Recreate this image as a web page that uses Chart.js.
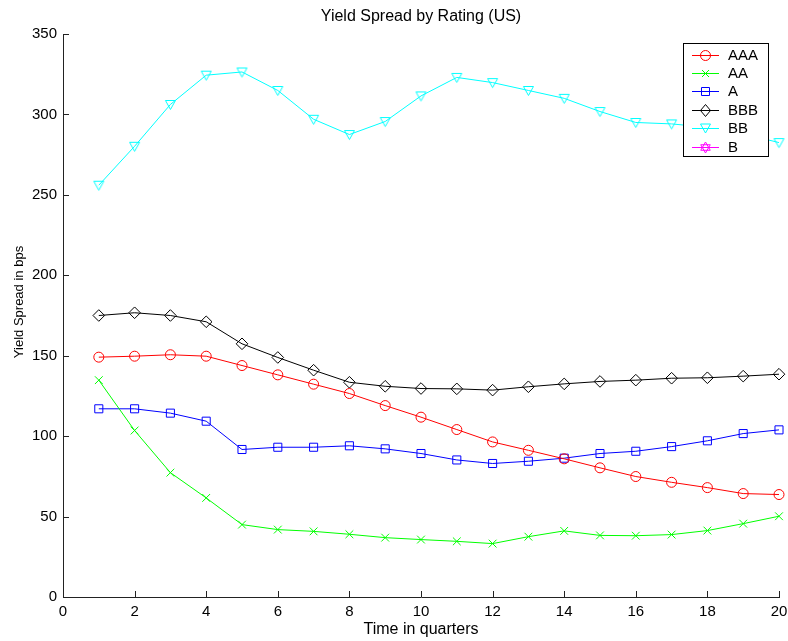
<!DOCTYPE html>
<html>
<head>
<meta charset="utf-8">
<title>Yield Spread by Rating (US)</title>
<script src="https://cdn.jsdelivr.net/npm/chart.js@4.4.1/dist/chart.umd.min.js"></script>
<style>
  html, body { margin: 0; padding: 0; background: #fff; }
  #wrap { width: 788px; height: 641px; }
</style>
</head>
<body>
<div id="wrap"><canvas id="spreadChart" width="788" height="641"></canvas></div>
<script>
// Quarters on the x axis
const quarters = [1, 2, 3, 4, 5, 6, 7, 8, 9, 10, 11, 12, 13, 14, 15, 16, 17, 18, 19, 20];

// Spreads (bps) per rating class
const aaaSpread = [149.1, 149.7, 150.6, 149.7, 143.9, 138.1, 132.3, 126.5, 119.0, 111.8, 104.1, 96.4, 91.2, 85.9, 80.3, 74.9, 71.3, 68.0, 64.3, 63.7];
const aaSpread  = [134.8, 103.5, 77.3, 61.6, 45.0, 41.9, 40.8, 39.0, 36.9, 35.7, 34.6, 33.2, 37.5, 41.1, 38.3, 38.1, 38.8, 41.3, 45.6, 50.2];
const aSpread   = [117.0, 117.0, 114.3, 109.3, 91.7, 93.1, 93.1, 94.0, 92.1, 89.2, 85.2, 83.0, 84.4, 86.3, 89.2, 90.6, 93.5, 97.1, 101.6, 103.9];
const bbbSpread = [175.0, 176.7, 175.0, 171.1, 157.4, 148.9, 141.0, 133.5, 131.0, 129.6, 129.4, 128.6, 130.7, 132.5, 134.0, 134.8, 136.0, 136.3, 137.3, 138.5];
const bbSpread  = [256.0, 280.2, 306.2, 324.4, 326.4, 314.9, 297.0, 287.5, 295.6, 311.5, 323.0, 319.8, 314.9, 310.0, 301.8, 295.0, 294.1, 292.0, 288.0, 282.5];
const bSpread   = []; // lies above the plotted range

const ratings = ['AAA', 'AA', 'A', 'BBB', 'BB', 'B'];
const colors  = ['#ff0000', '#00ff00', '#0000ff', '#000000', '#00ffff', '#ff00ff'];

// Axis ticks
const xTicks = [0, 2, 4, 6, 8, 10, 12, 14, 16, 18, 20];
const yTicks = [0, 50, 100, 150, 200, 250, 300, 350];

const FONT = "'Liberation Sans', Arial, Helvetica, sans-serif";

// hollow downward triangle marker, centred on its bounding box
function downTriangle(color) {
  const c = document.createElement('canvas');
  c.width = 13; c.height = 13;
  const g = c.getContext('2d');
  g.strokeStyle = color;
  g.lineWidth = 1;
  g.beginPath();
  g.moveTo(1.5, 2.5);
  g.lineTo(11.5, 2.5);
  g.lineTo(6.5, 11.5);
  g.closePath();
  g.stroke();
  return c;
}

const bbMarker = downTriangle(colors[4]);

function toPoints(values) {
  return values.map((v, i) => ({ x: quarters[i], y: v }));
}

function series(idx, values, style, radius) {
  return {
    label: ratings[idx],
    data: toPoints(values),
    borderColor: colors[idx],
    borderWidth: 1,
    pointStyle: style,
    pointRadius: radius,
    pointBorderColor: colors[idx],
    pointBackgroundColor: 'rgba(0,0,0,0)',
    pointBorderWidth: 1,
    tension: 0,
    clip: false
  };
}

// marker drawing for the legend box
function drawMarker(ctx, kind, x, y, color) {
  ctx.save();
  ctx.strokeStyle = color;
  ctx.lineWidth = 1;
  ctx.beginPath();
  if (kind === 'circle') {
    ctx.arc(x, y, 5, 0, Math.PI * 2);
  } else if (kind === 'cross') {
    ctx.moveTo(x - 3.5, y - 3.5); ctx.lineTo(x + 3.5, y + 3.5);
    ctx.moveTo(x + 3.5, y - 3.5); ctx.lineTo(x - 3.5, y + 3.5);
  } else if (kind === 'square') {
    ctx.rect(x - 4, y - 4, 8, 8);
  } else if (kind === 'diamond') {
    ctx.moveTo(x, y - 6); ctx.lineTo(x + 5, y); ctx.lineTo(x, y + 6); ctx.lineTo(x - 5, y); ctx.closePath();
  } else if (kind === 'tri') {
    ctx.moveTo(x - 5, y - 4.5); ctx.lineTo(x + 5, y - 4.5); ctx.lineTo(x, y + 4.5); ctx.closePath();
  } else if (kind === 'hexagram') {
    const r = 5.5;
    for (let k = 0; k < 2; k++) {
      const off = k === 0 ? -Math.PI / 2 : Math.PI / 2;
      for (let j = 0; j < 3; j++) {
        const ang = off + j * 2 * Math.PI / 3;
        const px = x + r * Math.cos(ang), py = y + r * Math.sin(ang);
        if (j === 0) ctx.moveTo(px, py); else ctx.lineTo(px, py);
      }
      ctx.closePath();
    }
  }
  ctx.stroke();
  ctx.restore();
}

const markerKinds = ['circle', 'cross', 'square', 'diamond', 'tri', 'hexagram'];

// MATLAB-like inward tick marks
const inwardTicks = {
  id: 'inwardTicks',
  afterDatasetsDraw(chart) {
    const { ctx, chartArea, scales } = chart;
    ctx.save();
    ctx.strokeStyle = '#222';
    ctx.lineWidth = 1;
    ctx.beginPath();
    xTicks.forEach(v => {
      const px = Math.round(scales.x.getPixelForValue(v)) + 0.5;
      ctx.moveTo(px, chartArea.bottom);
      ctx.lineTo(px, chartArea.bottom - 6);
    });
    yTicks.forEach(v => {
      const py = Math.round(scales.y.getPixelForValue(v)) + 0.5;
      ctx.moveTo(chartArea.left, py);
      ctx.lineTo(chartArea.left + 6, py);
    });
    ctx.stroke();
    ctx.restore();
  }
};

// boxed legend in the top right corner of the axes
const boxLegend = {
  id: 'boxLegend',
  afterDraw(chart) {
    const { ctx } = chart;
    const left = 683, top = 43, w = 85, h = 113;
    ctx.save();
    ctx.fillStyle = '#fff';
    ctx.fillRect(left, top, w, h);
    ctx.strokeStyle = '#000';
    ctx.lineWidth = 1;
    ctx.strokeRect(left + 0.5, top + 0.5, w, h);
    ctx.font = '15px ' + FONT;
    ctx.textBaseline = 'middle';
    ctx.textAlign = 'left';
    ratings.forEach((name, i) => {
      const y = 54.5 + i * 18.4;
      ctx.strokeStyle = colors[i];
      ctx.beginPath();
      ctx.moveTo(692, Math.round(y) + 0.5);
      ctx.lineTo(719, Math.round(y) + 0.5);
      ctx.stroke();
      drawMarker(ctx, markerKinds[i], 705.5, Math.round(y) + 0.5, colors[i]);
      ctx.fillStyle = '#000';
      ctx.fillText(name, 728, y + 1);
    });
    ctx.restore();
  }
};

// title above the axes and the y axis caption
const captions = {
  id: 'captions',
  afterDraw(chart) {
    const { ctx, chartArea } = chart;
    ctx.save();
    ctx.fillStyle = '#000';
    ctx.textAlign = 'center';
    ctx.textBaseline = 'middle';
    ctx.font = '16px ' + FONT;
    ctx.fillText('Yield Spread by Rating (US)', (chartArea.left + chartArea.right) / 2, 17);
    ctx.translate(19, 302);
    ctx.rotate(-Math.PI / 2);
    ctx.font = '13px ' + FONT;
    ctx.fillText('Yield Spread in bps', 0, 0);
    ctx.restore();
  }
};

const ctx = document.getElementById('spreadChart').getContext('2d');

const spreadChart = new Chart(ctx, {
  type: 'line',
  data: {
    datasets: [
      series(0, aaaSpread, 'circle', 5),
      series(1, aaSpread, 'crossRot', 5.5),
      series(2, aSpread, 'rect', 5.7),
      series(3, bbbSpread, 'rectRot', 5.8),
      series(4, bbSpread, bbMarker, 6),
      series(5, bSpread, 'star', 5.5)
    ]
  },
  options: {
    responsive: false,
    animation: false,
    events: [],
    layout: { padding: { top: 34, right: 9, left: 0, bottom: 0 } },
    plugins: {
      legend: { display: false },
      title: { display: false },
      tooltip: { enabled: false }
    },
    scales: {
      x: {
        type: 'linear',
        min: 0,
        max: 20,
        afterFit(scale) {
          scale.height = 44;
          scale.paddingLeft = 0;
          scale.paddingRight = 0;
        },
        afterBuildTicks(scale) { scale.ticks = xTicks.map(v => ({ value: v })); },
        grid: { display: false, drawTicks: false },
        border: { display: true, color: '#222', width: 1 },
        ticks: { color: '#000', padding: 6, maxRotation: 0, font: { family: FONT, size: 15 } },
        title: {
          display: true,
          text: 'Time in quarters',
          color: '#000',
          font: { family: FONT, size: 16 },
          padding: { top: 0, bottom: 2 }
        }
      },
      y: {
        type: 'linear',
        min: 0,
        max: 350,
        afterFit(scale) {
          scale.width = 63;
          scale.paddingTop = 0;
          scale.paddingBottom = 0;
        },
        afterBuildTicks(scale) { scale.ticks = yTicks.map(v => ({ value: v })); },
        grid: { display: false, drawTicks: false },
        border: { display: true, color: '#222', width: 1 },
        ticks: { color: '#000', padding: 6, font: { family: FONT, size: 15 } }
      }
    }
  },
  plugins: [inwardTicks, boxLegend, captions]
});
</script>
</body>
</html>
